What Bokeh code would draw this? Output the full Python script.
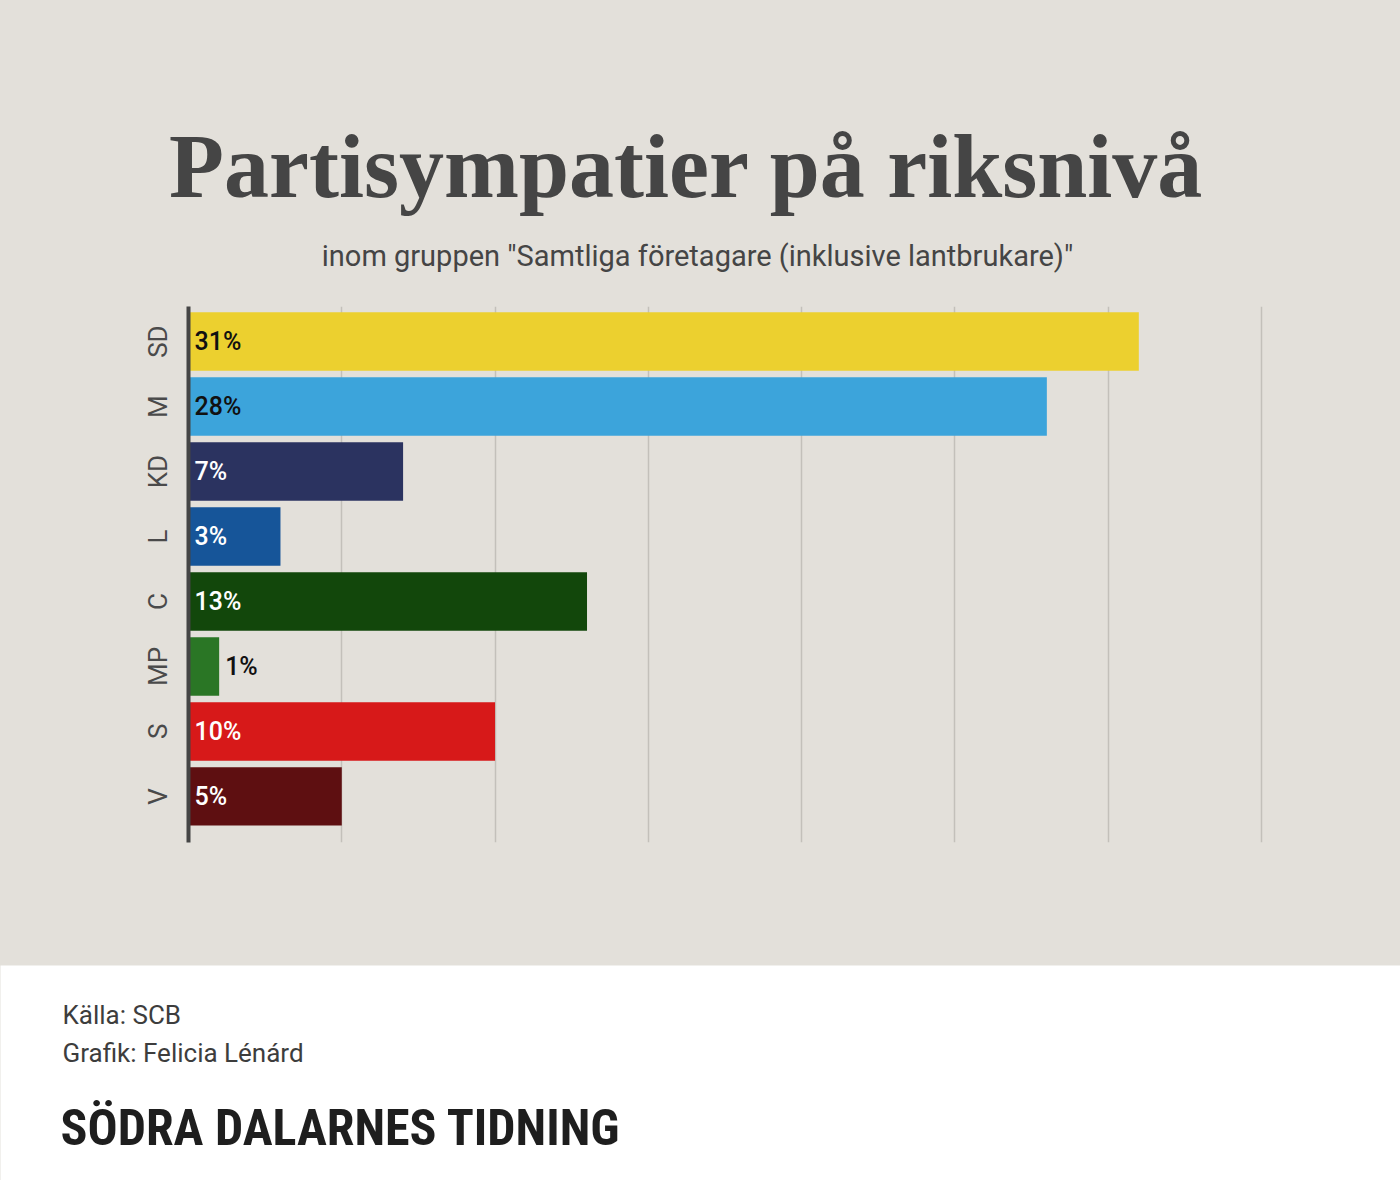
from bokeh.plotting import figure
from bokeh.models import ColumnDataSource, FixedTicker, Range1d
from bokeh.layouts import column
from bokeh.embed import file_html
from bokeh.resources import INLINE
from bokeh.core.properties import value

# ---- data ----
parties = ["SD", "M", "KD", "L", "C", "MP", "S", "V"]
shares = [31, 28, 7, 3, 13, 1, 10, 5]
party_colors = ["#ecd02f", "#3ca4db", "#2b3360", "#165599",
                "#12470b", "#2a7625", "#d71919", "#5e0f11"]
label_colors = ["#111111", "#111111", "#ffffff", "#ffffff",
                "#ffffff", "#111111", "#ffffff", "#ffffff"]
x_ticks = [0, 5, 10, 15, 20, 25, 30, 35]

title_text = "Partisympatier på riksnivå"
subtitle_text = 'inom gruppen "Samtliga företagare (inklusive lantbrukare)"'
source_text = "Källa: SCB"
credit_text = "Grafik: Felicia Lénárd"
brand_text = "SÖDRA DALARNES TIDNING"

BG = "#e3e0da"
DARK = "#454545"
W = 1400
H_HEAD = 306
H_CHART = 659
H_FOOT = 215
FL = 188
PX_PER_UNIT = 1073 / 35
X_PAD = 0.1          # a little room so the last grid line is not on the frame edge
X_END = x_ticks[-1] + X_PAD
FR = FL + round((X_END - x_ticks[0]) * PX_PER_UNIT)

n = len(parties)
ypos = [n - 1 - i for i in range(n)]
labels = [f"{v}%" for v in shares]
label_x = [0 if v >= 2 else v for v in shares]

src = ColumnDataSource(dict(y=ypos, share=shares, color=party_colors,
                            label=labels, lx=label_x, lcolor=label_colors))


def blank(height, fill):
    f = figure(width=W, height=height, x_range=Range1d(0, W), y_range=Range1d(0, height),
               output_backend="svg", toolbar_location=None, x_axis_location=None,
               y_axis_location=None, min_border=0, outline_line_color=None,
               background_fill_color=fill, border_fill_color=fill, frame_align=False)
    f.xgrid.visible = False
    f.ygrid.visible = False
    return f


def base_y(fig_height, top_px, baseline_px, size_px):
    # page-pixel baseline -> data y (text anchor sits ~0.36 em above the baseline)
    return fig_height - (baseline_px - top_px) + 0.36 * size_px


# ---- header ----
head = blank(H_HEAD, BG)
head.text(x=[686], y=[base_y(H_HEAD, 0, 198, 90)], text=[title_text], text_align="center",
          text_baseline="alphabetic", text_font=value("Liberation Serif"),
          text_font_style="bold", text_font_size="90px", text_color=DARK)
head.text(x=[697], y=[base_y(H_HEAD, 0, 266, 29)], text=[subtitle_text], text_align="center",
          text_baseline="alphabetic", text_font=value("Roboto"),
          text_font_size="29px", text_color=DARK)

# ---- chart ----
p = figure(width=W, height=H_CHART, x_range=Range1d(x_ticks[0], X_END),
           y_range=Range1d(-0.71, n - 1 + 0.54),
           output_backend="svg", toolbar_location=None,
           min_border_left=FL, min_border_right=W - FR, min_border_top=0,
           min_border_bottom=123, outline_line_color=None,
           background_fill_alpha=0, border_fill_color=BG,
           frame_align=False, styles={"background-color": BG})
p.xaxis.visible = False
p.xaxis.ticker = FixedTicker(ticks=x_ticks)
p.xgrid.grid_line_color = "#c3c0ba"
p.xgrid.grid_line_width = 1.5
p.ygrid.visible = False

p.hbar(y="y", left=0, right="share", height=0.9, fill_color="color",
       line_color=None, source=src)
p.text(x="lx", y="y", text="label", text_color="lcolor", x_offset=6,
       text_baseline="middle", text_align="left", text_font=value("Roboto Medium"),
       text_font_size="25px", source=src)

ax = p.yaxis[0]
ax.ticker = FixedTicker(ticks=ypos)
ax.major_label_overrides = {y: name for y, name in zip(ypos, parties)}
ax.major_label_orientation = "vertical"
ax.major_label_text_font = "Roboto"
ax.major_label_text_font_size = "26px"
ax.major_label_text_color = "#4a4a4a"
ax.major_label_standoff = 9
ax.axis_line_color = DARK
ax.axis_line_width = 4
ax.major_tick_line_color = None
ax.minor_tick_line_color = None

# ---- footer ----
TOP_FOOT = H_HEAD + H_CHART
foot = blank(H_FOOT, "white")
foot.text(x=[62, 62], y=[base_y(H_FOOT, TOP_FOOT, 1024, 26), base_y(H_FOOT, TOP_FOOT, 1062, 26)],
          text=[source_text, credit_text], text_baseline="alphabetic",
          text_font=value("Roboto"), text_font_size="26px", text_color="#3d3d3d")
foot.text(x=[60], y=[base_y(H_FOOT, TOP_FOOT, 1145, 50)], text=[brand_text],
          text_baseline="alphabetic",
          text_font=value("'Roboto Condensed', 'DejaVu Sans Condensed', 'Liberation Sans Narrow', sans-serif"),
          text_font_style="bold", text_font_size="50px", text_color="#1e1e1e")

layout = column(head, p, foot, spacing=0, styles={"background-color": BG})
open("out.html", "w").write(file_html(layout, INLINE))
